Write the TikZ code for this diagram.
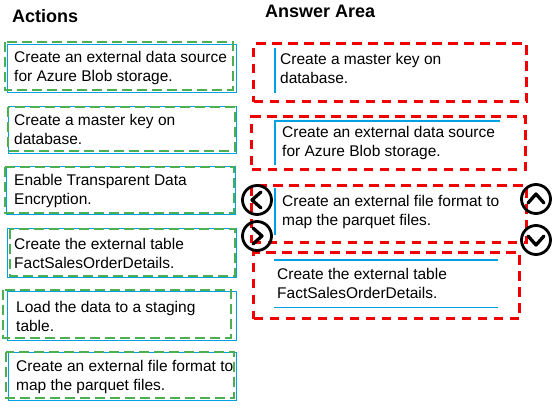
\documentclass[tikz,border=0pt]{standalone}
\usepackage{fontspec}
\setmainfont{Liberation Sans}
\usetikzlibrary{calc}
\definecolor{boxblue}{RGB}{0,160,227}
\definecolor{dashgreen}{RGB}{76,175,80}
\definecolor{dashred}{RGB}{240,0,0}
\tikzset{
  actbox/.style={draw=boxblue,line width=1.2pt,anchor=north west,inner sep=0pt},
  itemtext/.style={anchor=west,inner sep=0pt,align=left,
    font=\fontsize{15.5}{19}\selectfont},
  greenbox/.style={draw=dashgreen,line width=2.8pt,dash pattern=on 10pt off 5pt},
  slot/.style={draw=dashred,line width=3pt,dash pattern=on 9.5pt off 6.5pt,
    anchor=north west,inner sep=0pt},
  ansbox/.style={anchor=north west,inner sep=0pt},
  blueline/.style={draw=boxblue,line width=1.2pt},
  button/.style={circle,draw=black,line width=2.8pt,minimum size=29pt,inner sep=0pt},
  chevron/.style={draw=black,line width=3.3pt,line cap=round,line join=round},
  heading/.style={anchor=base west,inner sep=0pt,font=\fontsize{18}{20}\selectfont\bfseries},
}

\begin{document}
\begin{tikzpicture}[x=1pt,y=-1pt]
  \fill[white] (0,0) rectangle (560,410);
  \useasboundingbox (0,0) rectangle (560,410);

  % headings
  \node[heading] (hact) at (12,22) {Actions};
  \node[heading] (hans) at (265,17) {Answer Area};

  % actions column
  \node[actbox,minimum width=229pt,minimum height=48pt] (a1) at (7,44) {};
  \node[actbox,minimum width=228pt,minimum height=47pt] (a2) at (8,106) {};
  \node[actbox,minimum width=229pt,minimum height=48pt] (a3) at (6,166) {};
  \node[actbox,minimum width=229pt,minimum height=49pt] (a4) at (7,228) {};
  \node[actbox,minimum width=229pt,minimum height=49pt] (a5) at (7,291) {};
  \node[actbox,minimum width=228pt,minimum height=48pt] (a6) at (8,352) {};

  \node[itemtext] (a1t) at ($(a1.west)+(7,-1)$) {Create an external data source\\for Azure Blob storage.};
  \node[itemtext] (a2t) at ($(a2.west)+(6,-1)$) {Create a master key on\\database.};
  \node[itemtext] (a3t) at ($(a3.west)+(8,0)$) {Enable Transparent Data\\Encryption.};
  \node[itemtext] (a4t) at ($(a4.west)+(7,0)$) {Create the external table\\FactSalesOrderDetails.};
  \node[itemtext] (a5t) at ($(a5.west)+(9,0)$) {Load the data to a staging\\table.};
  \node[itemtext] (a6t) at ($(a6.west)+(8,0)$) {Create an external file format to\\map the parquet files.};

  \draw[greenbox] (5,42) rectangle (233,90);
  \draw[greenbox] (8,107) rectangle (235,151);
  \draw[greenbox] (5,167) rectangle (234,213);
  \draw[greenbox] (10,229) rectangle (235,276);
  \draw[greenbox] (3,290) rectangle (231,338);
  \draw[greenbox] (6,352) rectangle (234,398);

  % answer area slots
  \node[slot,minimum width=273pt,minimum height=58pt] (r1) at (252,42) {};
  \node[slot,minimum width=274pt,minimum height=53pt] (r2) at (250,115) {};
  \node[slot,minimum width=275pt,minimum height=57pt] (r3) at (250,184) {};
  \node[slot,minimum width=266pt,minimum height=66pt] (r4) at (252,251) {};

  \node[ansbox,minimum width=225pt,minimum height=45pt] (s1) at (275,48) {};
  \node[ansbox,minimum width=225pt,minimum height=44pt] (s2) at (275,121) {};
  \node[ansbox,minimum width=225pt,minimum height=47pt] (s3) at (275,188) {};
  \node[ansbox,minimum width=224pt,minimum height=47pt] (s4) at (274,260) {};

  \node[itemtext] (s1t) at ($(s1.west)+(5,-2)$) {Create a master key on\\database.};
  \node[itemtext] (s2t) at ($(s2.west)+(7,0)$) {Create an external data source\\for Azure Blob storage.};
  \node[itemtext] (s3t) at ($(s3.west)+(7,0)$) {Create an external file format to\\map the parquet files.};
  \node[itemtext] (s4t) at ($(s4.west)+(3,0)$) {Create the external table\\FactSalesOrderDetails.};

  \draw[blueline] (s1.north west) -- (s1.south west);
  \draw[blueline] (s2.south west) -- (s2.north west) -- (s2.north east);
  \draw[blueline] (s3.north west) -- (s3.south west);
  \draw[blueline] (s4.north west) -- (s4.north east);
  \draw[blueline] (s4.south west) -- (s4.south east);

  % move buttons
  \node[button] (bleft)  at (257,200) {};
  \node[button] (bright) at (257,236) {};
  \node[button] (bup)    at (536,199) {};
  \node[button] (bdown)  at (536,240) {};
  \draw[chevron] ($(bleft)+(4,-8)$) -- ($(bleft)+(-5,0)$) -- ($(bleft)+(4,8)$);
  \draw[chevron] ($(bright)+(-4,-8)$) -- ($(bright)+(5,0)$) -- ($(bright)+(-4,8)$);
  \draw[chevron] ($(bup)+(-8,4)$) -- ($(bup)+(0,-5)$) -- ($(bup)+(8,4)$);
  \draw[chevron] ($(bdown)+(-8,-4)$) -- ($(bdown)+(0,5)$) -- ($(bdown)+(8,-4)$);
\end{tikzpicture}
\end{document}
